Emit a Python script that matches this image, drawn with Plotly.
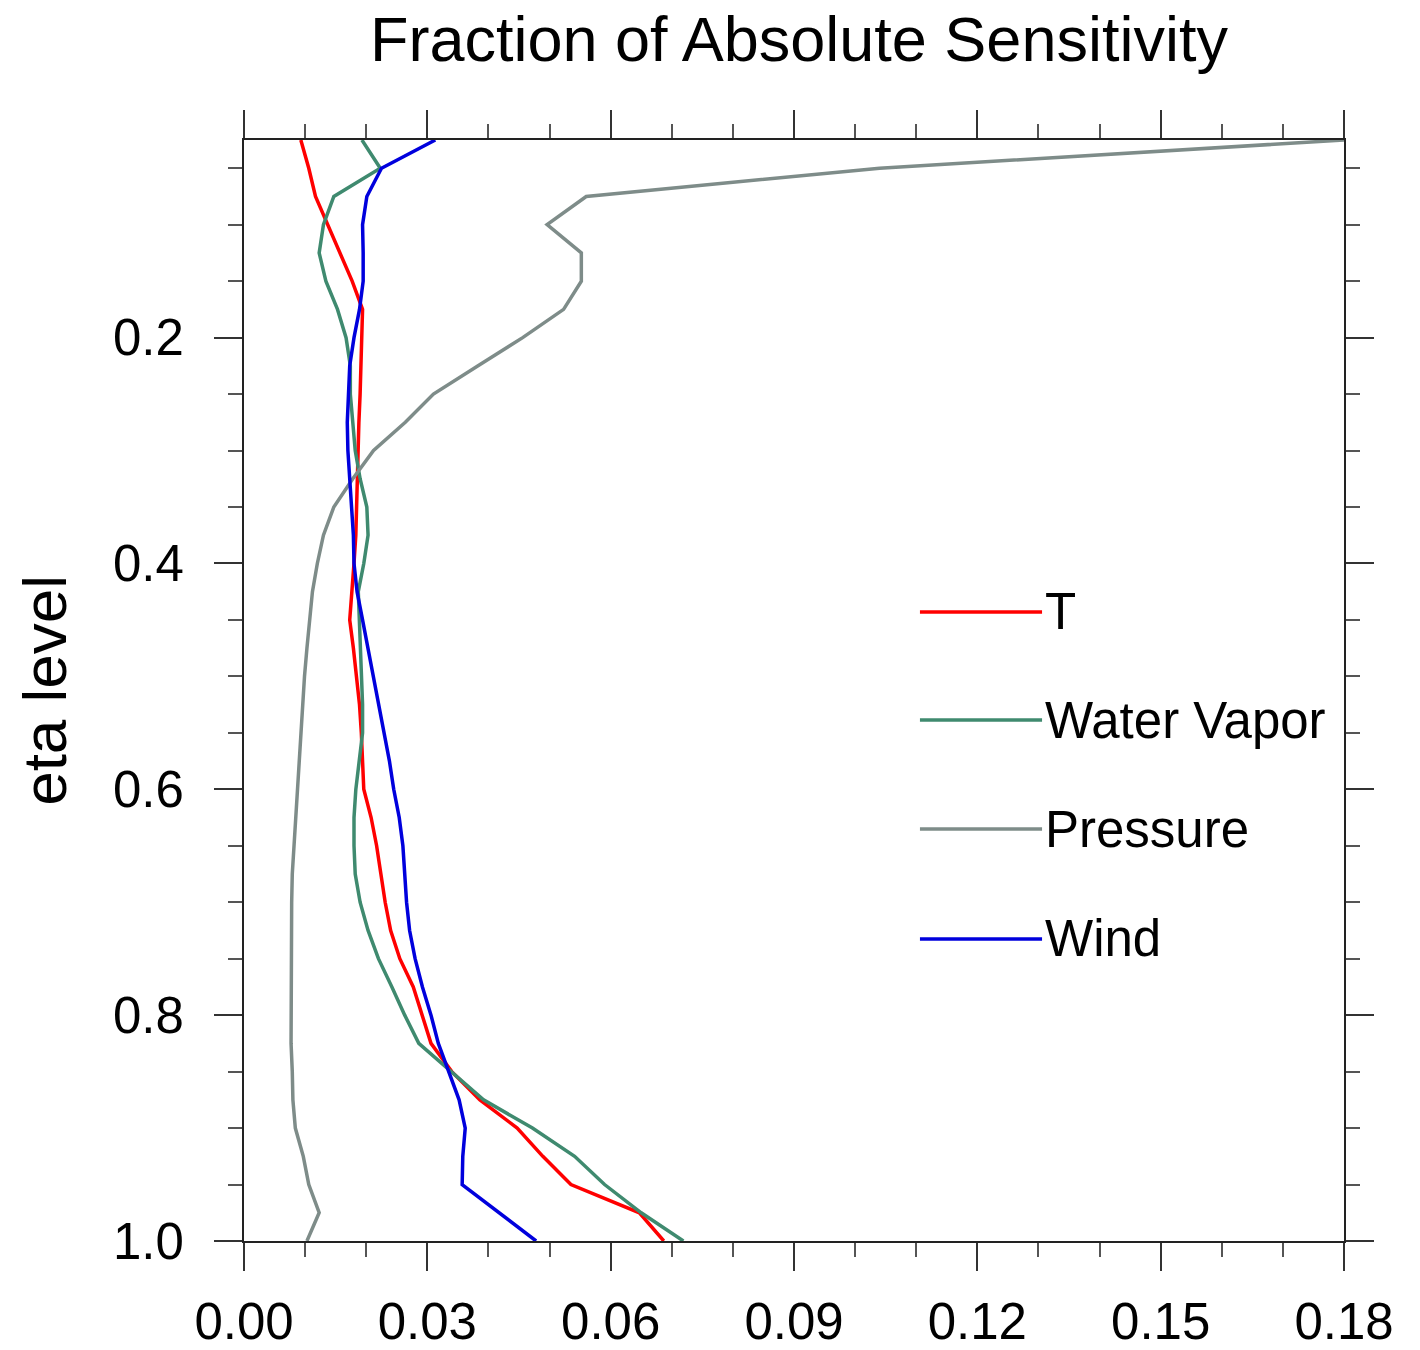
import plotly.graph_objects as go

# eta levels (top to surface)
eta = [0.025, 0.05, 0.075, 0.1, 0.125, 0.15, 0.175, 0.2, 0.225, 0.25,
       0.275, 0.3, 0.325, 0.35, 0.375, 0.4, 0.425, 0.45, 0.475, 0.5,
       0.525, 0.55, 0.575, 0.6, 0.625, 0.65, 0.675, 0.7, 0.725, 0.75,
       0.775, 0.8, 0.825, 0.85, 0.875, 0.9, 0.925, 0.95, 0.975, 1.0]

T_vals = [0.0093, 0.0106, 0.0117, 0.0137, 0.0158, 0.0177, 0.0194, 0.0193, 0.0191, 0.0190,
          0.0188, 0.0187, 0.0185, 0.0184, 0.0183, 0.0180, 0.0176, 0.0173, 0.0179, 0.0184,
          0.0189, 0.0192, 0.0194, 0.0196, 0.0208, 0.0217, 0.0224, 0.0231, 0.0240, 0.0255,
          0.0277, 0.0291, 0.0306, 0.0340, 0.0386, 0.0447, 0.0489, 0.0535, 0.0647, 0.0687]

wv_vals = [0.0193, 0.0223, 0.0147, 0.0130, 0.0123, 0.0134, 0.0153, 0.0167, 0.0174, 0.0174,
           0.0178, 0.0182, 0.0190, 0.0201, 0.0203, 0.0196, 0.0187, 0.0189, 0.0191, 0.0193,
           0.0194, 0.0194, 0.0189, 0.0183, 0.0180, 0.0180, 0.0182, 0.0190, 0.0203, 0.0220,
           0.0242, 0.0263, 0.0286, 0.0340, 0.0392, 0.0472, 0.0541, 0.0590, 0.0650, 0.0719]

p_vals = [0.1800, 0.1040, 0.0560, 0.0496, 0.0552, 0.0552, 0.0523, 0.0456, 0.0383, 0.0310,
          0.0264, 0.0212, 0.0178, 0.0147, 0.0130, 0.0120, 0.0112, 0.0107, 0.0103, 0.0099,
          0.0096, 0.0093, 0.0091, 0.0088, 0.0085, 0.0081, 0.0079, 0.0078, 0.0078, 0.0077,
          0.0077, 0.0077, 0.0077, 0.0079, 0.0080, 0.0084, 0.0097, 0.0106, 0.0123, 0.0103]

wind_vals = [0.0313, 0.0225, 0.0201, 0.0194, 0.0195, 0.0195, 0.0189, 0.0180, 0.0173, 0.0171,
             0.0169, 0.0170, 0.0173, 0.0176, 0.0179, 0.0180, 0.0185, 0.0194, 0.0203, 0.0212,
             0.0221, 0.0229, 0.0238, 0.0245, 0.0254, 0.0260, 0.0263, 0.0266, 0.0271, 0.0280,
             0.0292, 0.0306, 0.0318, 0.0335, 0.0352, 0.0362, 0.0358, 0.0357, 0.0418, 0.0478]

series_names = ["T", "Water Vapor", "Pressure", "Wind"]
series_vals = [T_vals, wv_vals, p_vals, wind_vals]
series_colors = ["#FF0000", "#3F8A6F", "#7E8C89", "#0000DD"]

FONT = "Liberation Sans, Arial, Helvetica, sans-serif"

fig = go.Figure()
for name, vals, col in zip(series_names, series_vals, series_colors):
    fig.add_trace(go.Scatter(x=vals, y=eta, mode="lines", name=name,
                             line=dict(color=col, width=3.5), showlegend=False))

axis_common = dict(
    showline=True, linecolor="#222222", linewidth=2, mirror="ticks",
    ticks="outside", ticklen=28, tickwidth=2, tickcolor="#333333",
    showgrid=False, zeroline=False, automargin=False,
    tickfont=dict(family=FONT, size=51, color="black"),
)

fig.update_xaxes(range=[0, 0.18], tick0=0, dtick=0.03, tickformat=".2f",
                 minor=dict(dtick=0.01, ticks="outside", ticklen=14, tickwidth=2,
                            tickcolor="#555555", showgrid=False),
                 ticklabelstandoff=7, **axis_common)
fig.update_yaxes(range=[1.0, 0.025], tick0=0, dtick=0.2, tickformat=".1f",
                 minor=dict(dtick=0.05, ticks="outside", ticklen=14, tickwidth=2,
                            tickcolor="#555555", showgrid=False),
                 ticklabelstandoff=20, **axis_common)

# Legend (manual, NCL style)
leg_y = [0.5713, 0.4732, 0.3742, 0.2743]
shapes = []
annotations = []
for name, col, yy in zip(series_names, series_colors, leg_y):
    shapes.append(dict(type="line", xref="paper", yref="paper",
                       x0=0.6145, x1=0.7255, y0=yy, y1=yy,
                       line=dict(color=col, width=3.5)))
    annotations.append(dict(xref="paper", yref="paper", x=0.7265, y=yy,
                            text=name, showarrow=False, xanchor="left", yanchor="middle",
                            font=dict(family=FONT, size=51, color="black")))

annotations.append(dict(xref="paper", yref="paper", x=0.5045, y=1.0915,
                        text="Fraction of Absolute Sensitivity", showarrow=False,
                        xanchor="center", yanchor="middle",
                        font=dict(family=FONT, size=63, color="black")))
annotations.append(dict(xref="paper", yref="paper", x=-0.181, y=0.5005,
                        text="eta level", showarrow=False, textangle=-90,
                        xanchor="center", yanchor="middle",
                        font=dict(family=FONT, size=62, color="black")))

# plot box at x 244-1344, y 140-1241 of the 1420x1350 page
fig.update_layout(
    width=1420, height=1350, autosize=False,
    margin=dict(l=244, r=76, t=140, b=109, pad=0),
    paper_bgcolor="white", plot_bgcolor="white",
    shapes=shapes, annotations=annotations,
    showlegend=False,
)

fig.write_html("out.html", config={"displayModeBar": False},
               post_script="document.body.style.margin='0px';")
